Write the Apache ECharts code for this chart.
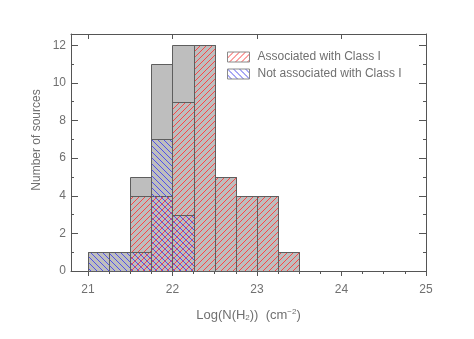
<!DOCTYPE html>
<html>
<head>
<meta charset="utf-8">
<script src="https://cdn.jsdelivr.net/npm/echarts@6/dist/echarts.min.js"></script>
<style>html,body{margin:0;padding:0;background:#fff}#c{width:474px;height:339px}</style>
</head>
<body>
<div id="c"></div>
<script>
// Bin edges (log N(H2)), width 0.25
var binStarts = [21.0, 21.25, 21.5, 21.75, 22.0, 22.25, 22.5, 22.75, 23.0, 23.25];
var binWidth = 0.25;
// Counts per bin
var totalCounts      = [1, 1, 5, 11, 12, 12, 5, 4, 4, 1];
var associatedCounts = [0, 0, 4, 4, 9, 12, 5, 4, 4, 1];
var notAssocCounts   = [1, 1, 1, 7, 3, 0, 0, 0, 0, 0];
// Axis ticks
var xMajorTicks = [21, 22, 23, 24, 25];
var xMinorTicks = [21.25,21.5,21.75,22.25,22.5,22.75,23.25,23.5,23.75,24.25,24.5,24.75];
var yMajorTicks = [0, 2, 4, 6, 8, 10, 12];
var yMinorTicks = [1, 3, 5, 7, 9, 11];
var seriesNames = ['Associated with Class I', 'Not associated with Class I'];

var SPACING = 6;

// crisp (aliased) 1-pixel diagonal hatch tile
function hatch(rgb, dir) {
  var s = SPACING, c = document.createElement('canvas');
  c.width = s; c.height = s;
  var g = c.getContext('2d');
  var img = g.createImageData(s, s);
  for (var i = 0; i < s; i++) {
    var y = dir > 0 ? (s - 1 - i) : i;
    var idx = (y * s + i) * 4;
    img.data[idx] = rgb[0]; img.data[idx + 1] = rgb[1]; img.data[idx + 2] = rgb[2]; img.data[idx + 3] = 255;
  }
  g.putImageData(img, 0, 0);
  return {image: c, repeat: 'repeat'};
}
var redHatch = hatch([250, 70, 70], 1);
var blueHatch = hatch([80, 80, 235], -1);

function toData(counts) {
  var d = [];
  for (var i = 0; i < binStarts.length; i++) {
    if (counts[i] > 0) d.push([binStarts[i], binStarts[i] + binWidth, counts[i]]);
  }
  return d;
}

function renderer(fill) {
  return function (params, api) {
    var p0 = api.coord([api.value(0), api.value(2)]);
    var p1 = api.coord([api.value(1), 0]);
    var x0 = Math.round(p0[0]) + 0.5, y0 = Math.round(p0[1]) + 0.5;
    var x1 = Math.round(p1[0]) + 0.5, y1 = Math.round(p1[1]) + 0.5;
    return {type: 'group', children: [
      {type: 'rect', shape: {x: x0, y: y0, width: x1 - x0, height: y1 - y0}, style: {fill: fill}},
      {type: 'polyline', shape: {points: [[x0, y1], [x0, y0], [x1, y0], [x1, y1], [x0, y1]]},
       style: {stroke: '#5e5e5e', lineWidth: 1, fill: 'none'}, silent: true}
    ]};
  };
}

var textColor = '#707070';
var axisColor = '#555555';
var font = 'Liberation Sans';
var xMin = 20.8, xMax = 25, yMin = 0, yMax = 12.6;

function xAx(opt) {
  return Object.assign({type: 'value', min: xMin, max: xMax, splitLine: {show: false},
    axisLine: {show: false}, axisLabel: {show: false}, axisTick: {show: false}}, opt);
}
function yAx(opt) {
  return Object.assign({type: 'value', min: yMin, max: yMax, splitLine: {show: false},
    axisLine: {show: false}, axisLabel: {show: false}, axisTick: {show: false}}, opt);
}

var chart = echarts.init(document.getElementById('c'), null, {renderer: 'canvas'});
chart.setOption({
  backgroundColor: '#ffffff',
  animation: false,
  grid: {left: 71, top: 34, width: 355, height: 237, containLabel: false},
  xAxis: [
    xAx({position: 'bottom',
      axisLine: {show: true, onZero: false, lineStyle: {color: axisColor, width: 1}},
      axisTick: {show: true, inside: false, length: 5, customValues: xMajorTicks, lineStyle: {color: axisColor}},
      axisLabel: {show: true, customValues: xMajorTicks, margin: 13, color: textColor, fontSize: 12, fontFamily: font},
      name: 'Log(N(H{sub|2}))  (cm{sup|\u22122})', nameLocation: 'middle', nameGap: 37,
      nameTextStyle: {color: textColor, fontSize: 13, fontFamily: font,
        rich: {sub: {fontSize: 8, verticalAlign: 'bottom', padding: [6, 0, 0, 0], color: textColor, fontFamily: font},
               sup: {fontSize: 8, verticalAlign: 'top', padding: [0, 0, 6, 0], color: textColor, fontFamily: font}}}
    }),
    xAx({position: 'bottom',
      axisTick: {show: true, inside: false, length: 3, customValues: xMinorTicks, lineStyle: {color: axisColor}}}),
    xAx({position: 'top',
      axisLine: {show: true, onZero: false, lineStyle: {color: axisColor, width: 1}},
      axisTick: {show: true, inside: true, length: 5, customValues: xMajorTicks, lineStyle: {color: axisColor}}})
  ],
  yAxis: [
    yAx({position: 'left',
      axisLine: {show: true, onZero: false, lineStyle: {color: axisColor, width: 1}},
      axisTick: {show: true, inside: true, length: 7, customValues: yMajorTicks, lineStyle: {color: axisColor}},
      axisLabel: {show: true, customValues: yMajorTicks, margin: 5, color: textColor, fontSize: 12, fontFamily: font}}),
    yAx({position: 'left',
      axisTick: {show: true, inside: true, length: 3, customValues: yMinorTicks, lineStyle: {color: axisColor}}}),
    yAx({position: 'right',
      axisLine: {show: true, onZero: false, lineStyle: {color: axisColor, width: 1}},
      axisTick: {show: true, inside: true, length: 7, customValues: yMajorTicks, lineStyle: {color: axisColor}}}),
    yAx({position: 'right',
      axisTick: {show: true, inside: true, length: 3, customValues: yMinorTicks, lineStyle: {color: axisColor}}})
  ],
  legend: {
    orient: 'vertical', left: 227, top: 51, padding: 0, itemGap: 5,
    itemWidth: 22, itemHeight: 10, icon: 'rect',
    textStyle: {color: textColor, fontSize: 12, fontFamily: font, padding: [0, 0, 0, 3]},
    data: [
      {name: seriesNames[0], itemStyle: {color: redHatch, borderColor: '#8a8a8a', borderWidth: 1}},
      {name: seriesNames[1], itemStyle: {color: blueHatch, borderColor: '#8a8a8a', borderWidth: 1}}
    ]
  },
  graphic: [{
    type: 'text', x: 37, y: 140, rotation: Math.PI / 2,
    style: {text: 'Number of sources', fill: textColor, font: '12px "Liberation Sans"',
            align: 'center', verticalAlign: 'middle'}
  }],
  series: [
    {type: 'custom', name: 'Total', xAxisIndex: 0, yAxisIndex: 0, encode: {x: [0, 1], y: 2},
     renderItem: renderer('#bebebe'), data: toData(totalCounts), z: 1},
    {type: 'custom', name: seriesNames[0], xAxisIndex: 0, yAxisIndex: 0, encode: {x: [0, 1], y: 2},
     itemStyle: {color: redHatch}, renderItem: renderer(redHatch), data: toData(associatedCounts), z: 2},
    {type: 'custom', name: seriesNames[1], xAxisIndex: 0, yAxisIndex: 0, encode: {x: [0, 1], y: 2},
     itemStyle: {color: blueHatch}, renderItem: renderer(blueHatch), data: toData(notAssocCounts), z: 3}
  ]
});
</script>
</body>
</html>
